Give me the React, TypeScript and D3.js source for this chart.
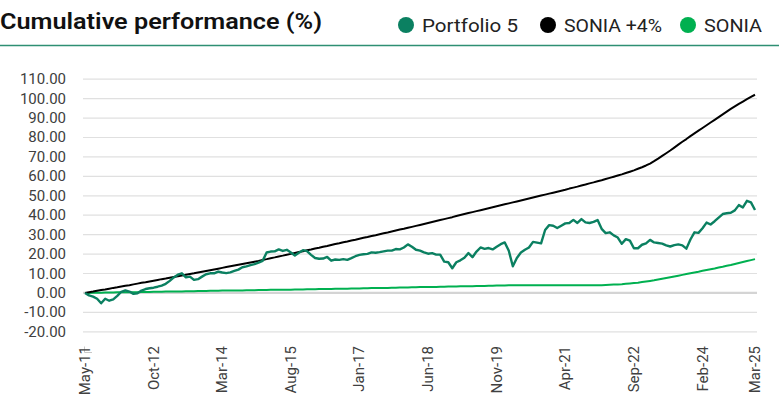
import React from "react";
import * as d3 from "d3";

const W = 779;
const H = 403;

const monthNames = ["Jan","Feb","Mar","Apr","May","Jun","Jul","Aug","Sep","Oct","Nov","Dec"];

// Monthly categories May-2011 .. Mar-2025
const categories: string[] = (() => {
  const out: string[] = [];
  let m = 4, y = 2011;
  for (let i = 0; i < 167; i++) {
    out.push(`${monthNames[m]}-${String(y % 100).padStart(2, "0")}`);
    m++; if (m > 11) { m = 0; y++; }
  }
  return out;
})();

const tickLabels = ["May-11","Oct-12","Mar-14","Aug-15","Jan-17","Jun-18","Nov-19","Apr-21","Sep-22","Feb-24","Mar-25"];
const yTicks = [-20,-10,0,10,20,30,40,50,60,70,80,90,100,110];

const portfolio5 = [
  0,-1.3,-1.9,-3,-5.3,-3,-4,-3.3,-1.5,0.6,1.3,0.7,-0.5,-0.2,1.2,2,2.4,2.7,3.2,3.8,
  4.7,6.2,8,9.4,10.1,8,8.4,6.7,7.1,8.4,9.6,10.1,10.1,11,10.5,10.2,10.6,11.3,12,13.2,
  13.7,14.3,14.8,15.6,16.5,20.8,21.3,21.4,22.4,21.6,22.2,20.8,19.3,20.7,22,21.5,19.6,18,17.6,17.7,
  18.5,16.6,17.2,17,17.4,17,17.9,18.9,19.6,19.9,20.1,20.9,20.7,21,21.4,21.8,21.8,22.6,22.4,23.4,
  25,23.8,22.2,21.8,20.9,20.2,20.5,19.7,19.7,16.1,15.8,12.7,15.8,16.8,18.1,20.5,18.4,21.3,23.4,22.7,
  23.1,22.4,23.8,25.1,26,21.7,13.7,18,20.8,22.2,23.4,26.3,25.9,25.5,32.4,34.9,34.6,33.4,34.6,35.8,
  36,37.6,36,38,36.3,36,36.6,37.5,33,30.8,31.2,29.6,28.5,25.3,27.7,26.9,23,23,24.8,25.5,
  27.3,26,25.7,25.4,24.5,23.9,24.6,25,24.5,22.8,27.5,31.2,30.9,33.3,36.2,35.2,36.9,38.8,40.6,41,
  41.3,42.5,45.2,44,47.4,46.6,42.7
];

const soniaPlus4 = [
  0,0.4,0.7,1.1,1.5,1.8,2.2,2.6,2.9,3.3,3.7,4.0,4.4,4.8,5.2,5.5,5.9,6.3,6.7,7.1,
  7.4,7.8,8.2,8.6,9.0,9.4,9.8,10.1,10.5,10.9,11.3,11.7,12.1,12.5,12.9,13.3,13.7,14.1,14.5,14.9,
  15.3,15.7,16.1,16.5,17.0,17.4,17.9,18.3,18.8,19.2,19.7,20.1,20.6,21.1,21.5,22.0,22.4,22.9,23.3,23.8,
  24.2,24.7,25.2,25.6,26.1,26.5,27.0,27.4,27.9,28.4,28.8,29.3,29.7,30.2,30.7,31.1,31.6,32.1,32.6,33.0,
  33.5,34.0,34.5,35.0,35.5,36.0,36.5,37.0,37.5,38.0,38.5,39.0,39.6,40.1,40.6,41.1,41.6,42.1,42.6,43.1,
  43.6,44.1,44.6,45.1,45.6,46.1,46.6,47.1,47.6,48.1,48.6,49.1,49.6,50.1,50.6,51.1,51.6,52.1,52.6,53.1,
  53.7,54.2,54.7,55.3,55.8,56.4,56.9,57.5,58.0,58.6,59.2,59.8,60.4,61.0,61.7,62.4,63.1,63.9,64.7,65.6,
  66.6,67.8,69.1,70.5,71.9,73.3,74.8,76.3,77.8,79.2,80.7,82.1,83.5,84.9,86.3,87.7,89.1,90.5,91.9,93.3,
  94.7,96.0,97.3,98.5,99.7,100.9,102.0
];

const sonia = [
  0,0,0.1,0.1,0.1,0.2,0.2,0.2,0.3,0.3,0.3,0.4,0.4,0.4,0.5,0.5,0.5,0.6,0.6,0.6,
  0.7,0.7,0.7,0.8,0.8,0.9,0.9,0.9,1.0,1.0,1.0,1.1,1.1,1.1,1.2,1.2,1.2,1.3,1.3,1.3,
  1.4,1.4,1.4,1.5,1.5,1.5,1.6,1.6,1.6,1.7,1.7,1.7,1.8,1.8,1.8,1.9,1.9,1.9,2.0,2.0,
  2.0,2.0,2.1,2.1,2.2,2.2,2.3,2.3,2.3,2.4,2.4,2.5,2.5,2.5,2.6,2.6,2.7,2.7,2.8,2.8,
  2.8,2.9,2.9,3.0,3.0,3.0,3.1,3.1,3.2,3.2,3.3,3.3,3.3,3.4,3.4,3.5,3.5,3.6,3.6,3.6,
  3.7,3.7,3.8,3.8,3.8,3.9,3.9,3.9,3.9,3.9,3.9,3.9,3.9,3.9,3.9,3.9,3.9,3.9,4.0,4.0,
  4.0,4.0,4.0,4.0,4.0,4.0,4.0,4.0,4.0,4.1,4.2,4.3,4.4,4.5,4.7,4.9,5.1,5.3,5.6,5.9,
  6.2,6.5,6.9,7.3,7.7,8.1,8.5,8.9,9.3,9.7,10.1,10.5,10.9,11.4,11.8,12.2,12.6,13.1,13.5,14.0,
  14.4,14.9,15.4,15.9,16.4,16.9,17.4
];

const seriesNames = ["Portfolio 5", "SONIA +4%", "SONIA"];
const seriesColors = ["#0b8061", "#000000", "#00b050"];

const FONT = "Roboto, 'Noto Sans', sans-serif";

export default function App() {
  const x = d3.scalePoint<number>().domain(categories.map((_, i) => i)).range([85, 755]);
  const y = d3.scaleLinear().domain([-20, 110]).range([331.8, 79.2]);

  const line = d3.line<number>().x((_, i) => x(i) as number).y((d) => y(d));

  const seriesData = [portfolio5, soniaPlus4, sonia];
  const widths = [2.4, 2, 2];
  const legendX = [406, 548, 688];
  const legendLen = [96, 98, 58];

  return (
    <svg width={W} height={H} style={{ position: "absolute", left: 0, top: 0, display: "block", background: "#fff" }} fontFamily={FONT}>
      <text x={0} y={29} fontSize={22} fontWeight={600} fill="#111" textLength={322} lengthAdjust="spacingAndGlyphs">Cumulative performance (%)</text>
      {seriesNames.map((n, k) => (
        <g key={n}>
          <circle cx={legendX[k]} cy={25} r={8} fill={seriesColors[k]} />
          <text x={legendX[k] + 16} y={31.5} fontSize={18} fill="#222" textLength={legendLen[k]} lengthAdjust="spacingAndGlyphs">{n}</text>
        </g>
      ))}
      <line x1={0} x2={W} y1={45.5} y2={45.5} stroke="#2e8f73" strokeWidth={1.5} />

      {yTicks.map((t) => (
        <g key={t}>
          <line x1={83} x2={757} y1={y(t)} y2={y(t)} stroke={t === 0 ? "#d4d4d4" : "#e0e0e0"} strokeWidth={t === 0 ? 2.2 : 1.2} />
          <text x={66} y={y(t) + 5} textAnchor="end" fontSize={15} fill="#404040">{t.toFixed(2)}</text>
        </g>
      ))}
      <path d="M84.5,346.5 V352.5 H92" fill="none" stroke="#c8c8c8" strokeWidth={1} />

      {tickLabels.map((lab) => {
        const i = categories.indexOf(lab);
        const xp = x(i) as number;
        return (
          <text key={lab} transform={`translate(${xp + 5},346) rotate(-90)`} textAnchor="end" fontSize={15} fill="#404040">{lab}</text>
        );
      })}

      {[2, 1, 0].map((k) => (
        <path key={k} d={line(seriesData[k]) || ""} fill="none" stroke={seriesColors[k]} strokeWidth={widths[k]} strokeLinejoin="round" />
      ))}
    </svg>
  );
}
